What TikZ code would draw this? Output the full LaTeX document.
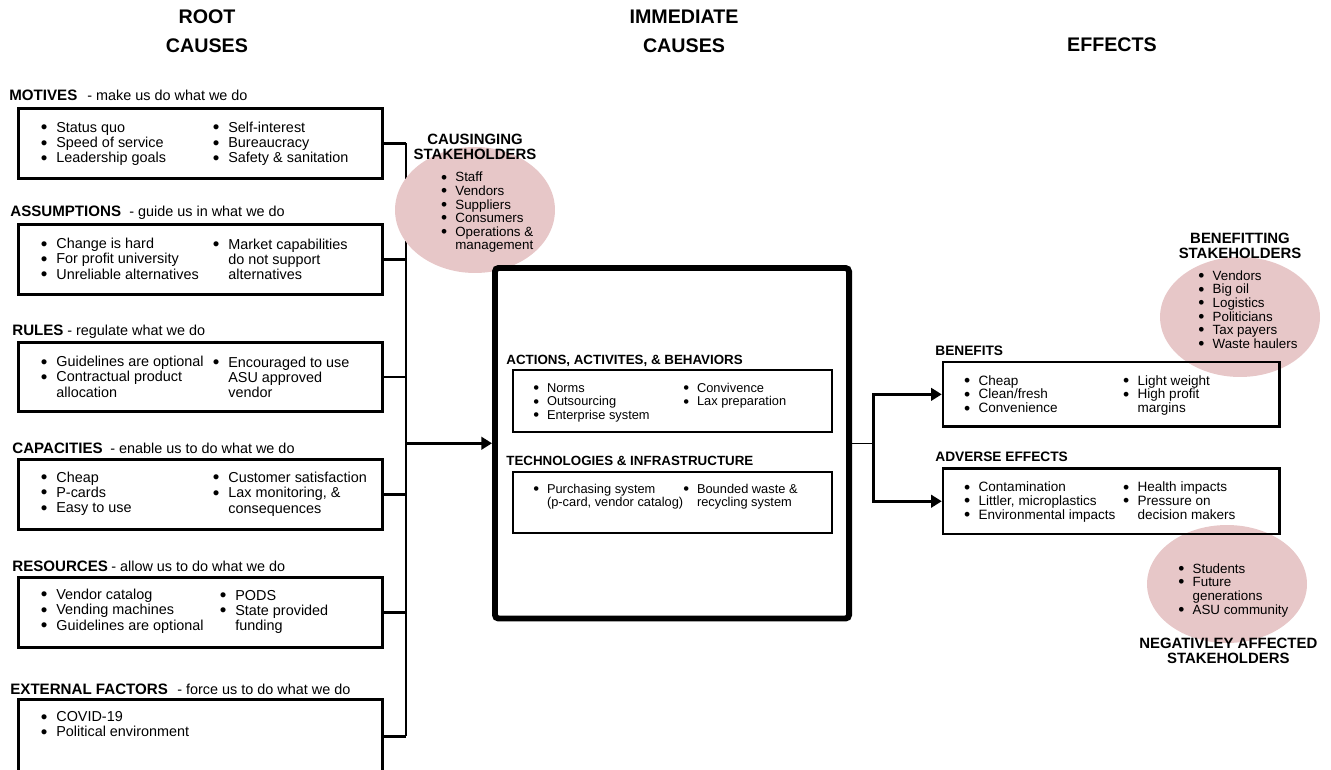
\documentclass[tikz,border=0pt]{standalone}
\usepackage{fontspec}
\setmainfont{Liberation Sans}
\usetikzlibrary{arrows.meta,calc,fit,shapes.geometric,backgrounds}

\definecolor{blush}{RGB}{231,199,200}
\newcommand{\itm}{\llap{\raisebox{-0.1em}{\scalebox{1.3}{\textbullet}}\hspace{0.62em}}}
\newcommand{\blist}[1]{\begin{tabular}[t]{@{}l@{}}#1\end{tabular}}
\newcommand{\ctab}[1]{\begin{tabular}[t]{@{}c@{}}#1\end{tabular}}

\begin{document}
\begin{tikzpicture}[
  x=0.02cm, y=-0.02cm,
  title/.style={anchor=base, inner sep=0pt, font=\fontsize{11.2}{16}\selectfont\bfseries},
  cat/.style={anchor=base west, inner sep=0pt, font=\fontsize{8.6}{9}\selectfont\bfseries},
  sub/.style={anchor=base west, inner sep=0pt, font=\fontsize{8.2}{9}\selectfont},
  lst/.style={anchor=base west, inner sep=0pt, font=\fontsize{8.2}{8.7}\selectfont},
  ccat/.style={cat, font=\fontsize{7.6}{8}\selectfont\bfseries},
  clst/.style={lst, font=\fontsize{7.3}{7.68}\selectfont},
  ecat/.style={cat, font=\fontsize{7.8}{8}\selectfont\bfseries},
  elst/.style={lst, font=\fontsize{7.7}{7.85}\selectfont},
  shead/.style={anchor=base, inner sep=0pt, font=\fontsize{8.5}{8.15}\selectfont\bfseries},
  slst/.style={lst, font=\fontsize{7.6}{7.6}\selectfont},
  box/.style={draw, line width=1.7pt, inner sep=0pt},
  core/.style={draw, line width=3.4pt, inner sep=0pt, rounded corners=2pt},
  inbox/.style={draw, line width=1.2pt, inner sep=0pt},
  fxbox/.style={draw, line width=1.4pt, inner sep=0pt},
  blob/.style={ellipse, fill=blush, inner sep=0pt},
  conn/.style={line width=1.5pt},
  stub/.style={line width=0.6pt},
  arr/.style={-{Triangle[length=6pt,width=7pt]}, line width=1.7pt},
]
  \useasboundingbox (0,0) rectangle (1331,770);
  \clip (0,0) rectangle (1331,770);

  % column titles
  \node[title] (rootT) at (207,24) {\ctab{ROOT\\CAUSES}};
  \node[title] (immT) at (684,24) {\ctab{IMMEDIATE\\CAUSES}};
  \node[title] (effT) at (1112,52) {EFFECTS};

  % stakeholder blobs
  \node[blob, minimum width=3.2cm, minimum height=2.52cm] (causing) at (475,210) {};
  \node[blob, minimum width=3.2cm, minimum height=2.4cm] (benefitting) at (1240,317) {};
  \node[blob, minimum width=3.2cm, minimum height=2.36cm] (negative) at (1227,584) {};

  % root causes
  \node[box, fit={(18.2,108.2) (382.5,178.5)}] (motives) {};
  \node[box, fit={(18.2,224.2) (382.5,294.5)}] (assumptions) {};
  \node[box, fit={(18.2,342.2) (382.5,411.5)}] (rules) {};
  \node[box, fit={(18.2,459.5) (382.5,529.5)}] (capacities) {};
  \node[box, fit={(18.2,577.5) (382.5,647.5)}] (resources) {};
  \node[box, fit={(18.2,699.5) (382.5,773)}] (external) {};

  \node[cat] (motivesH) at (9,100.7) {MOTIVES};
  \node[sub] (motivesS) at (87,100.7) {- make us do what we do};
  \node[lst] (motivesA) at (56,132.3) {\blist{\itm Status quo\\ \itm Speed of service\\ \itm Leadership goals}};
  \node[lst] (motivesB) at (228,132.3) {\blist{\itm Self-interest\\ \itm Bureaucracy\\ \itm Safety \& sanitation}};

  \node[cat] (assumptionsH) at (10,216.7) {ASSUMPTIONS};
  \node[sub] (assumptionsS) at (129,216.7) {- guide us in what we do};
  \node[lst] (assumptionsA) at (56,248.7) {\blist{\itm Change is hard\\ \itm For profit university\\ \itm Unreliable alternatives}};
  \node[lst] (assumptionsB) at (228,249) {\blist{\itm Market capabilities\\ do not support\\ alternatives}};

  \node[cat] (rulesH) at (12,335) {RULES};
  \node[sub] (rulesS) at (67,335) {- regulate what we do};
  \node[lst] (rulesA) at (56,366.7) {\blist{\itm Guidelines are optional\\ \itm Contractual product\\ allocation}};
  \node[lst] (rulesB) at (228,367) {\blist{\itm Encouraged to use\\ ASU approved\\ vendor}};

  \node[cat] (capacitiesH) at (12,453) {CAPACITIES};
  \node[sub] (capacitiesS) at (110,453) {- enable us to do what we do};
  \node[lst] (capacitiesA) at (56,482) {\blist{\itm Cheap\\ \itm P-cards\\ \itm Easy to use}};
  \node[lst] (capacitiesB) at (228,482.5) {\blist{\itm Customer satisfaction\\ \itm Lax monitoring, \&\\ consequences}};

  \node[cat] (resourcesH) at (12,571.7) {RESOURCES};
  \node[sub] (resourcesS) at (111,571.7) {- allow us to do what we do};
  \node[lst] (resourcesA) at (56,599.5) {\blist{\itm Vendor catalog\\ \itm Vending machines\\ \itm Guidelines are optional}};
  \node[lst] (resourcesB) at (235,600) {\blist{\itm PODS\\ \itm State provided\\ funding}};

  \node[cat] (externalH) at (10,694) {EXTERNAL FACTORS};
  \node[sub] (externalS) at (177,694) {- force us to do what we do};
  \node[lst] (externalA) at (56,721.7) {\blist{\itm COVID-19\\ \itm Political environment}};

  % immediate causes
  \node[core, fit={(495,268) (849,618.5)}] (imm) {};
  \node[inbox, fit={(512.7,370) (832.3,432.3)}] (actions) {};
  \node[inbox, fit={(512.7,471.7) (832.3,533.3)}] (tech) {};

  \node[ccat] (actionsH) at (506,364.3) {ACTIONS, ACTIVITES, \& BEHAVIORS};
  \node[clst] (actionsA) at (546.7,392.3) {\blist{\itm Norms\\ \itm Outsourcing\\ \itm Enterprise system}};
  \node[clst] (actionsB) at (696.7,392.3) {\blist{\itm Convivence\\ \itm Lax preparation}};

  \node[ccat] (techH) at (506,465) {TECHNOLOGIES \& INFRASTRUCTURE};
  \node[clst] (techA) at (546.7,493.3) {\blist{\itm Purchasing system\\ (p-card, vendor catalog)}};
  \node[clst] (techB) at (696.7,493.3) {\blist{\itm Bounded waste \&\\ recycling system}};

  % effects
  \node[fxbox, fit={(943,362.2) (1279.5,426.5)}] (benefits) {};
  \node[fxbox, fit={(943,468.5) (1279.5,534)}] (adverse) {};

  \node[ecat] (benefitsH) at (935,355) {BENEFITS};
  \node[elst] (benefitsA) at (978.3,385) {\blist{\itm Cheap\\ \itm Clean/fresh\\ \itm Convenience}};
  \node[elst] (benefitsB) at (1137.3,385) {\blist{\itm Light weight\\ \itm High profit\\ margins}};

  \node[ecat] (adverseH) at (935,461.7) {ADVERSE EFFECTS};
  \node[elst] (adverseA) at (978.3,491.7) {\blist{\itm Contamination\\ \itm Littler, microplastics\\ \itm Environmental impacts}};
  \node[elst] (adverseB) at (1137.3,491.7) {\blist{\itm Health impacts\\ \itm Pressure on\\ decision makers}};

  % stakeholders
  \node[shead] (causingH) at (475,145) {\ctab{CAUSINGING\\STAKEHOLDERS}};
  \node[slst] (causingL) at (455,181.7) {\blist{\itm Staff\\ \itm Vendors\\ \itm Suppliers\\ \itm Consumers\\ \itm Operations \&\\ management}};
  \node[shead] (benefittingH) at (1240,243.3) {\ctab{BENEFITTING\\STAKEHOLDERS}};
  \node[slst] (benefittingL) at (1212.3,280) {\blist{\itm Vendors\\ \itm Big oil\\ \itm Logistics\\ \itm Politicians\\ \itm Tax payers\\ \itm Waste haulers}};
  \node[slst] (negativeL) at (1192.3,573.3) {\blist{\itm Students\\ \itm Future\\ generations\\ \itm ASU community}};
  \node[shead] (negativeH) at (1228.3,648.3) {\ctab{NEGATIVLEY AFFECTED\\STAKEHOLDERS}};

  % connectors
  \coordinate (bus) at (406,443.25);
  \coordinate (fork) at (873,443.25);
  \begin{pgfonlayer}{background}
    \foreach \b in {motives,assumptions,rules,capacities,resources,external}
      \draw[conn] (\b.east) -- (\b.east -| bus);
    \draw[conn] (motives.east -| bus) -- (external.east -| bus);
    \draw[arr] (bus) -- (bus -| imm.west);
    \draw[stub] (imm.east) -- (fork);
    \draw[arr] (fork) |- (benefits.west);
    \draw[arr] (fork) |- (adverse.west);
  \end{pgfonlayer}
\end{tikzpicture}
\end{document}
